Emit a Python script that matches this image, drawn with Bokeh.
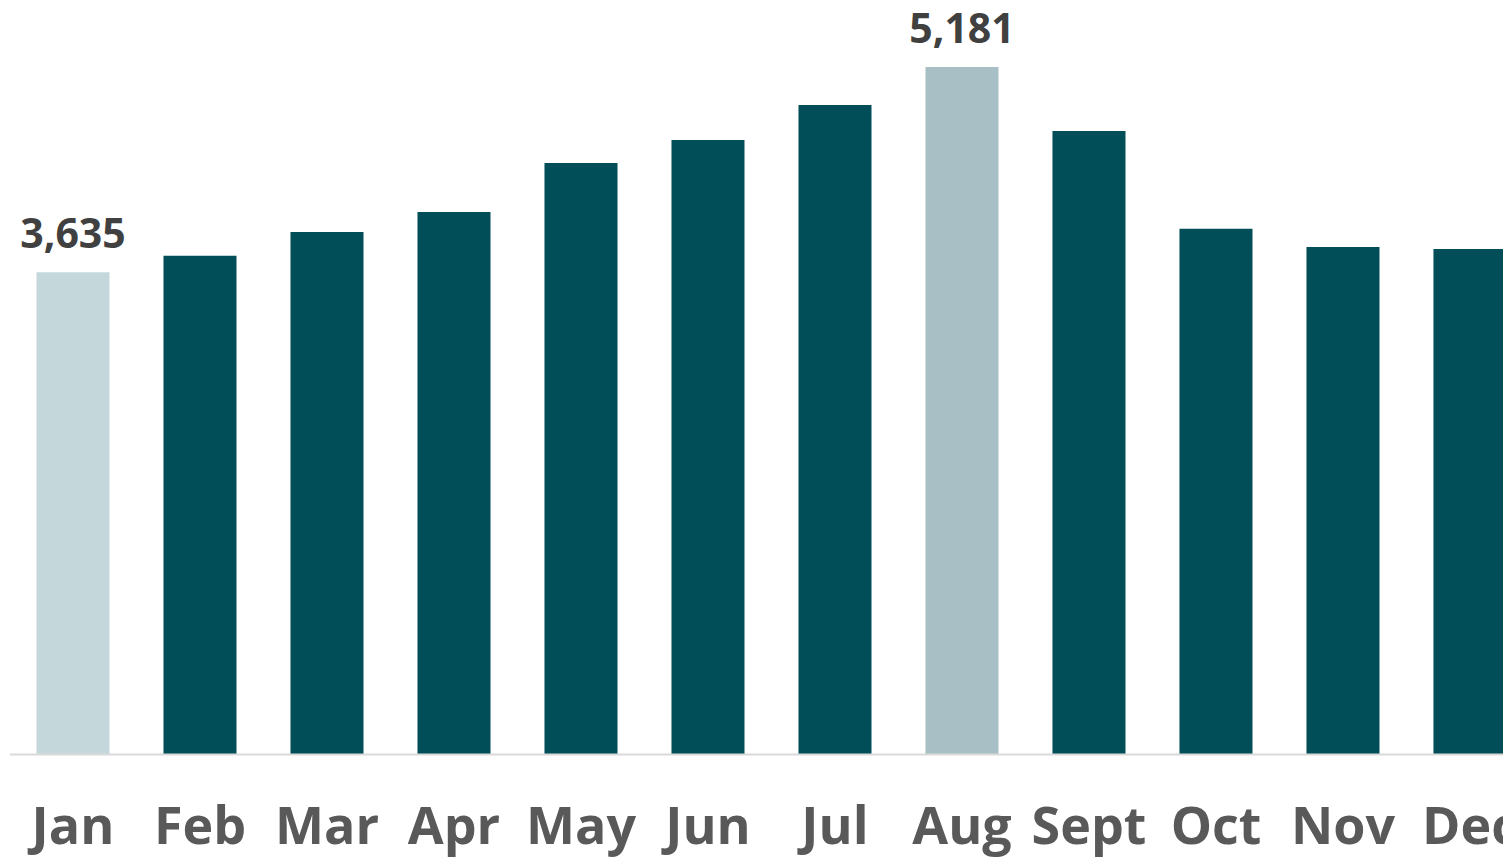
from bokeh.plotting import figure
from bokeh.models import ColumnDataSource, Range1d, Span
from bokeh.core.properties import value
from bokeh.embed import file_html
from bokeh.resources import INLINE

months = ["Jan", "Feb", "Mar", "Apr", "May", "Jun", "Jul", "Aug", "Sept", "Oct", "Nov", "Dec"]
visits = [3635, 3758, 3938, 4089, 4458, 4631, 4895, 5181, 4699, 3961, 3825, 3810]
bar_colors = ["#C4D8DB", "#024E58", "#024E58", "#024E58", "#024E58", "#024E58",
              "#024E58", "#A8C0C5", "#024E58", "#024E58", "#024E58", "#024E58"]
label_months = ["Jan", "Aug"]

xs = list(range(len(months)))
src = ColumnDataSource(dict(x=xs, top=visits, color=bar_colors, month=months,
                            zero=[0] * len(xs)))

W, H = 1503, 860
p = figure(width=W, height=H, output_backend="svg", toolbar_location=None,
           x_range=Range1d(-0.5, 11.264), y_range=Range1d(-799, 5682),
           min_border_left=9, min_border_right=0, min_border_top=0, min_border_bottom=0)
p.outline_line_color = None
p.grid.visible = False
p.axis.visible = False
p.background_fill_color = "white"
p.border_fill_color = "white"

p.vbar(x="x", top="top", width=0.575, bottom=0, color="color", source=src, line_color=None)

p.add_layout(Span(location=0, dimension="width", line_color="#D9D9D9", line_width=2))

# category labels
p.text(x="x", y="zero", text="month", source=src, text_align="center",
       text_baseline="bottom", y_offset=105,
       text_font=value("Open Sans"), text_font_style="bold", text_font_size="52px",
       text_color="#595959")

# value labels
lx = [months.index(m) for m in label_months]
ly = [visits[i] for i in lx]
lt = [f"{visits[i]:,}" for i in lx]
p.text(x=lx, y=ly, text=lt, text_align="center", text_baseline="bottom", y_offset=-24,
       text_font=value("Open Sans"), text_font_style="bold", text_font_size="41px",
       text_color="#404040")

open("out.html", "w").write(file_html(p, INLINE))
